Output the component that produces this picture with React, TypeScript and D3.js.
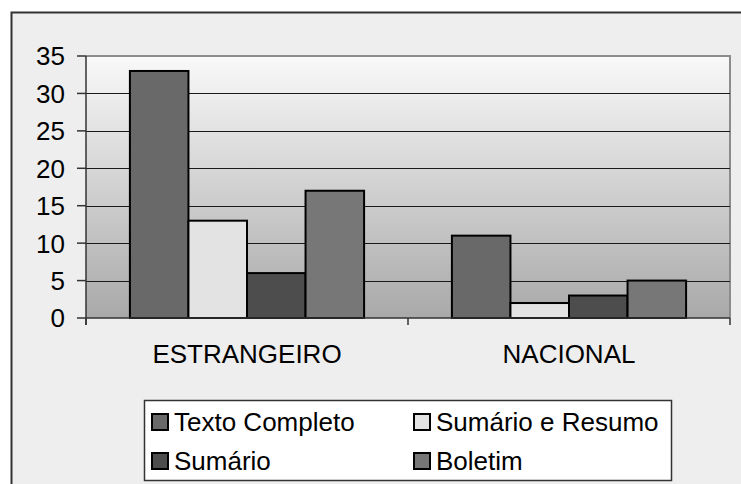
import React from "react";
import * as d3 from "d3";

const categories = ["ESTRANGEIRO", "NACIONAL"];
const seriesNames = ["Texto Completo", "Sumário e Resumo", "Sumário", "Boletim"];
const textoCompleto = [33, 11];
const sumarioResumo = [13, 2];
const sumario = [6, 3];
const boletim = [17, 5];
const yTicks = [0, 5, 10, 15, 20, 25, 30, 35];
const seriesColors = ["#696969", "#e3e3e3", "#4d4d4d", "#777777"];

const seriesValues = [textoCompleto, sumarioResumo, sumario, boletim];

const W = 741;
const H = 484;
const plot = { left: 86, right: 730, top: 56, bottom: 318 };
const font = "'Liberation Sans', Arial, sans-serif";

export default function App() {
  const x0 = d3.scaleBand<string>().domain(categories).range([plot.left, plot.right]).padding(0);
  const x1 = d3
    .scaleBand<string>()
    .domain(seriesNames)
    .range([0, x0.bandwidth()])
    .paddingInner(0)
    .paddingOuter(0.75);
  const y = d3.scaleLinear().domain([0, 35]).range([plot.bottom, plot.top]);

  const legendItems = [
    { name: seriesNames[0], color: seriesColors[0], x: 152, y: 422 },
    { name: seriesNames[1], color: seriesColors[1], x: 414, y: 422 },
    { name: seriesNames[2], color: seriesColors[2], x: 152, y: 461 },
    { name: seriesNames[3], color: seriesColors[3], x: 414, y: 461 },
  ];

  const xTickPositions = [plot.left, ...categories.map((c) => (x0(c) as number) + x0.bandwidth())];

  return (
    <svg
      width={W}
      height={H}
      style={{ position: "absolute", left: 0, top: 0, display: "block" }}
      fontFamily={font}
    >
      <defs>
        <linearGradient id="plotFill" x1="0" y1="0" x2="0" y2="1">
          <stop offset="0%" stopColor="#f9f9f9" />
          <stop offset="100%" stopColor="#a9a9a9" />
        </linearGradient>
      </defs>
      <rect x={0} y={0} width={W} height={H} fill="#ffffff" />
      {/* chart frame */}
      <rect x={11.5} y={12.5} width={W} height={H} fill="#eeeeee" stroke="#333333" strokeWidth={2} />

      {/* plot area */}
      <rect
        x={plot.left}
        y={plot.top}
        width={plot.right - plot.left}
        height={plot.bottom - plot.top}
        fill="url(#plotFill)"
      />
      <path
        d={`M${plot.left},${plot.top}H${plot.right}V${plot.bottom}`}
        fill="none"
        stroke="#8c8c8c"
        strokeWidth={2}
      />

      {/* gridlines */}
      {yTicks
        .filter((t) => t > 0 && t < 35)
        .map((t) => (
          <line
            key={t}
            x1={plot.left}
            x2={plot.right}
            y1={Math.round(y(t)) + 0.5}
            y2={Math.round(y(t)) + 0.5}
            stroke="#1a1a1a"
            strokeWidth={1}
          />
        ))}

      {/* bars */}
      {categories.map((c, ci) =>
        seriesNames.map((s, si) => {
          const v = seriesValues[si][ci];
          const bx = (x0(c) as number) + (x1(s) as number);
          return (
            <rect
              key={c + s}
              x={bx}
              y={y(v)}
              width={x1.bandwidth()}
              height={plot.bottom - y(v)}
              fill={seriesColors[si]}
              stroke="#000000"
              strokeWidth={2}
            />
          );
        })
      )}

      {/* y axis */}
      <line x1={plot.left} x2={plot.left} y1={plot.top} y2={plot.bottom + 7} stroke="#333333" strokeWidth={1.5} />
      {yTicks.map((t) => (
        <g key={t}>
          <line x1={plot.left - 9} x2={plot.left} y1={y(t)} y2={y(t)} stroke="#333333" strokeWidth={1.5} />
          <text x={65} y={y(t)} dy="0.36em" textAnchor="end" fontSize={26} fill="#000">
            {t}
          </text>
        </g>
      ))}

      {/* x axis */}
      <line x1={plot.left} x2={plot.right} y1={plot.bottom} y2={plot.bottom} stroke="#333333" strokeWidth={1.5} />
      {xTickPositions.map((px, i) => (
        <line key={i} x1={px} x2={px} y1={plot.bottom} y2={plot.bottom + 7} stroke="#333333" strokeWidth={1.5} />
      ))}
      {categories.map((c) => (
        <text
          key={c}
          x={(x0(c) as number) + x0.bandwidth() / 2}
          y={363}
          textAnchor="middle"
          fontSize={26}
          fill="#000"
        >
          {c}
        </text>
      ))}

      {/* legend */}
      <rect x={144.5} y={400.5} width={527} height={80} fill="#ffffff" stroke="#333333" strokeWidth={1.5} />
      {legendItems.map((it) => (
        <g key={it.name}>
          <rect x={it.x} y={it.y - 8} width={16} height={16} fill={it.color} stroke="#000" strokeWidth={2} />
          <text x={it.x + 22} y={it.y} dy="0.35em" fontSize={26} fill="#000">
            {it.name}
          </text>
        </g>
      ))}
    </svg>
  );
}
